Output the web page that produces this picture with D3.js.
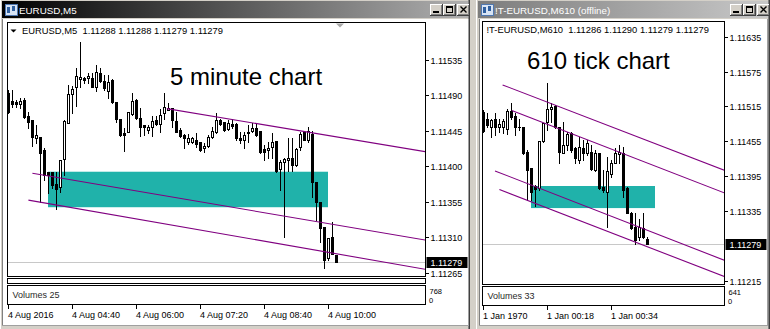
<!DOCTYPE html>
<html><head><meta charset="utf-8">
<script src="https://cdn.jsdelivr.net/npm/d3@7"></script>
<style>html,body{margin:0;padding:0;background:#d4d0c8;overflow:hidden}svg{display:block}text{font-family:"Liberation Sans",Arial,sans-serif}</style>
</head><body><svg id="c" width="770" height="329"></svg>
<script>
// ---------- DATA: left chart (EURUSD M5) ----------
const leftOpen = [1.11493,1.11483,1.11481,1.11479,1.11484,1.11464,1.11459,1.11436,1.11437,1.11420,1.11393,1.11393,1.11377,1.11374,1.11409,1.11455,1.11491,1.11500,1.11510,1.11512,1.11512,1.11512,1.11500,1.11518,1.11508,1.11495,1.11509,1.11481,1.11460,1.11442,1.11443,1.11466,1.11484,1.11461,1.11452,1.11446,1.11450,1.11459,1.11453,1.11467,1.11471,1.11474,1.11457,1.11446,1.11440,1.11431,1.11431,1.11433,1.11431,1.11423,1.11426,1.11437,1.11443,1.11459,1.11456,1.11447,1.11453,1.11453,1.11436,1.11433,1.11442,1.11445,1.11448,1.11445,1.11422,1.11420,1.11424,1.11432,1.11396,1.11405,1.11408,1.11410,1.11401,1.11424,1.11443,1.11433,1.11441,1.11380,1.11355,1.11323,1.11284,1.11310,1.11288];
const leftHigh = [1.11497,1.11497,1.11484,1.11486,1.11486,1.11469,1.11459,1.11452,1.11437,1.11423,1.11393,1.11393,1.11393,1.11408,1.11459,1.11503,1.11502,1.11524,1.11557,1.11513,1.11518,1.11518,1.11528,1.11524,1.11516,1.11516,1.11510,1.11481,1.11460,1.11448,1.11469,1.11493,1.11485,1.11474,1.11452,1.11452,1.11464,1.11464,1.11472,1.11493,1.11480,1.11474,1.11469,1.11448,1.11441,1.11441,1.11437,1.11442,1.11431,1.11429,1.11440,1.11450,1.11467,1.11460,1.11456,1.11459,1.11460,1.11455,1.11443,1.11443,1.11452,1.11455,1.11455,1.11445,1.11427,1.11431,1.11442,1.11432,1.11408,1.11410,1.11436,1.11436,1.11423,1.11443,1.11445,1.11450,1.11445,1.11380,1.11355,1.11323,1.11309,1.11329,1.11288];
const leftLow = [1.11467,1.11475,1.11475,1.11474,1.11461,1.11448,1.11426,1.11429,1.11355,1.11382,1.11366,1.11372,1.11346,1.11367,1.11389,1.11455,1.11467,1.11476,1.11500,1.11505,1.11505,1.11500,1.11495,1.11507,1.11497,1.11486,1.11480,1.11456,1.11438,1.11419,1.11443,1.11465,1.11460,1.11438,1.11440,1.11442,1.11438,1.11452,1.11443,1.11460,1.11471,1.11450,1.11443,1.11437,1.11423,1.11428,1.11429,1.11424,1.11419,1.11418,1.11424,1.11436,1.11442,1.11452,1.11445,1.11446,1.11448,1.11433,1.11429,1.11423,1.11431,1.11443,1.11438,1.11417,1.11408,1.11410,1.11410,1.11393,1.11370,1.11310,1.11394,1.11394,1.11400,1.11420,1.11433,1.11431,1.11361,1.11332,1.11304,1.11271,1.11281,1.11289,1.11279];
const leftClose = [1.11469,1.11479,1.11479,1.11483,1.11462,1.11456,1.11437,1.11440,1.11417,1.11389,1.11389,1.11376,1.11371,1.11408,1.11457,1.11491,1.11498,1.11514,1.11513,1.11509,1.11514,1.11500,1.11519,1.11508,1.11499,1.11507,1.11481,1.11460,1.11440,1.11440,1.11469,1.11483,1.11461,1.11450,1.11450,1.11450,1.11457,1.11453,1.11465,1.11475,1.11474,1.11459,1.11443,1.11438,1.11436,1.11436,1.11436,1.11428,1.11420,1.11426,1.11437,1.11445,1.11459,1.11453,1.11446,1.11455,1.11451,1.11436,1.11433,1.11440,1.11443,1.11448,1.11440,1.11418,1.11418,1.11423,1.11431,1.11394,1.11405,1.11409,1.11410,1.11401,1.11422,1.11441,1.11433,1.11445,1.11380,1.11355,1.11322,1.11281,1.11309,1.11289,1.11279];
const leftTimeLabels = ["4 Aug 2016","4 Aug 04:40","4 Aug 06:00","4 Aug 07:20","4 Aug 08:40","4 Aug 10:00"];
const leftTimeIndex = [0,16,32,48,64,80];
const leftPriceTicks = [1.11535,1.11490,1.11445,1.11400,1.11355,1.11310,1.11265];
const leftLastPrice = 1.11279;
const leftZone = {i1:10, i2:80, pTop:1.11393, pBot:1.11348};
const leftLines = [
  {i1:39.7, p1:1.11473, i2:104.75, p2:1.11418},
  {i1:6.1,  p1:1.11391, i2:104.75, p2:1.11306},
  {i1:5.1,  p1:1.11357, i2:104.75, p2:1.11269}
];

// ---------- DATA: right chart (610 tick) ----------
const rightOpen = [1.11506,1.11493,1.11480,1.11493,1.11480,1.11480,1.11476,1.11507,1.11499,1.11480,1.11480,1.11437,1.11409,1.11378,1.11375,1.11456,1.11488,1.11511,1.11516,1.11480,1.11435,1.11449,1.11469,1.11443,1.11423,1.11443,1.11435,1.11437,1.11406,1.11435,1.11376,1.11368,1.11399,1.11418,1.11433,1.11435,1.11375,1.11332,1.11307,1.11290,1.11306,1.11286];
const rightHigh = [1.11509,1.11504,1.11493,1.11504,1.11493,1.11493,1.11511,1.11521,1.11504,1.11493,1.11480,1.11440,1.11409,1.11380,1.11456,1.11486,1.11555,1.11521,1.11517,1.11480,1.11488,1.11471,1.11471,1.11445,1.11462,1.11457,1.11457,1.11449,1.11440,1.11435,1.11406,1.11428,1.11423,1.11443,1.11449,1.11445,1.11376,1.11333,1.11332,1.11321,1.11332,1.11290];
const rightLow = [1.11471,1.11480,1.11462,1.11466,1.11471,1.11469,1.11468,1.11493,1.11466,1.11474,1.11433,1.11354,1.11354,1.11344,1.11371,1.11454,1.11474,1.11488,1.11478,1.11418,1.11435,1.11440,1.11437,1.11418,1.11418,1.11423,1.11431,1.11406,1.11404,1.11373,1.11368,1.11307,1.11394,1.11418,1.11418,1.11359,1.11332,1.11304,1.11278,1.11285,1.11289,1.11279];
const rightClose = [1.11472,1.11483,1.11492,1.11480,1.11485,1.11490,1.11507,1.11497,1.11480,1.11479,1.11435,1.11406,1.11368,1.11373,1.11456,1.11486,1.11511,1.11514,1.11480,1.11437,1.11449,1.11468,1.11440,1.11426,1.11445,1.11435,1.11452,1.11407,1.11435,1.11375,1.11371,1.11404,1.11418,1.11435,1.11437,1.11371,1.11332,1.11306,1.11285,1.11307,1.11290,1.11279];
const rightTimeLabels = ["1 Jan 1970","1 Jan 00:18","1 Jan 00:34"];
const rightTimeIndex = [0,16,32];
const rightPriceTicks = [1.11635,1.11575,1.11515,1.11455,1.11395,1.11335,1.11215];
const rightLastPrice = 1.11279;
const rightZone = {i1:12, i2:43, pTop:1.11378, pBot:1.11340};
const rightLines = [
  {i1:4.9, p1:1.11552, i2:60.4, p2:1.11405},
  {i1:7.2, p1:1.11508, i2:60.4, p2:1.11366},
  {i1:3.0, p1:1.11404, i2:60.4, p2:1.11250},
  {i1:4.1, p1:1.11372, i2:60.4, p2:1.11222}
];

// ---------- DRAWING ----------
const svg = d3.select("#c");
const defs = svg.append("defs");
function grad(id, c1, c2){
  const g = defs.append("linearGradient").attr("id",id).attr("x1","0").attr("x2","1").attr("y1","0").attr("y2","0");
  g.append("stop").attr("offset","0").attr("stop-color",c1);
  g.append("stop").attr("offset","1").attr("stop-color",c2);
}
grad("gActive","#000000","#b0b0b0");
grad("gInactive","#7c7c7c","#c8c8c8");

svg.append("rect").attr("width",770).attr("height",329).attr("fill","#d4d0c8");

function hline(g,x1,x2,y,c){g.append("line").attr("x1",x1).attr("x2",x2).attr("y1",y).attr("y2",y).attr("stroke",c).attr("shape-rendering","crispEdges");}
function vline(g,x,y1,y2,c){g.append("line").attr("x1",x).attr("x2",x).attr("y1",y1).attr("y2",y2).attr("stroke",c).attr("shape-rendering","crispEdges");}

function drawWindow(x0, x1, title, gradId, clientX0, clientX1){
  const g = svg.append("g");
  vline(g,x0+0.5,0,329,"#ffffff");
  vline(g,x1-0.5,0,329,"#404040");
  vline(g,x1-1.5,0,329,"#808080");
  g.append("rect").attr("x",x0+2).attr("y",1).attr("width",x1-x0-4).attr("height",17).attr("fill",`url(#${gradId})`);
  g.append("rect").attr("x",clientX0).attr("y",19).attr("width",clientX1-clientX0).attr("height",306).attr("fill","#fff");
  vline(g,clientX0-0.5,19,326,"#808080");
  hline(g,clientX0-1,clientX1+1,325.5,"#a0a0a0");
  vline(g,clientX1+0.5,19,326,"#a0a0a0");
  const ix = x0+5;
  g.append("rect").attr("x",ix).attr("y",4).attr("width",12).attr("height",11).attr("fill","#d8e4f4").attr("stroke","#5078b0").attr("stroke-width",1).attr("shape-rendering","crispEdges");
  g.append("rect").attr("x",ix+2).attr("y",7).attr("width",3).attr("height",6).attr("fill","#3060a0");
  g.append("rect").attr("x",ix+7).attr("y",6).attr("width",3).attr("height",5).attr("fill","#3060a0");
  g.append("text").attr("x",x0+19).attr("y",14).attr("fill","#fff").attr("font-size","9.8px").text(title);
  const by = 4, bw = 13, bh = 12;
  const bx = [x1-40, x1-27, x1-13];
  bx.forEach((b,k)=>{
    const bb = g.append("g");
    bb.append("rect").attr("x",b).attr("y",by).attr("width",bw).attr("height",bh).attr("fill","#d4d0c8").attr("shape-rendering","crispEdges");
    hline(bb,b,b+bw,by+0.5,"#ffffff"); vline(bb,b+0.5,by,by+bh,"#ffffff");
    hline(bb,b,b+bw,by+bh-0.5,"#404040"); vline(bb,b+bw-0.5,by,by+bh,"#404040");
    hline(bb,b+1,b+bw-1,by+bh-1.5,"#808080"); vline(bb,b+bw-1.5,by+1,by+bh-1,"#808080");
    if(k===0){ bb.append("rect").attr("x",b+3).attr("y",by+7).attr("width",6).attr("height",2).attr("fill","#000"); }
    if(k===1){ bb.append("rect").attr("x",b+3.5).attr("y",by+2.5).attr("width",6).attr("height",6).attr("fill","none").attr("stroke","#000").attr("shape-rendering","crispEdges");
               bb.append("rect").attr("x",b+3).attr("y",by+2).attr("width",7).attr("height",2).attr("fill","#000"); }
    if(k===2){ bb.append("path").attr("d",`M${b+3.5},${by+2.5}L${b+9.5},${by+8.5}M${b+9.5},${by+2.5}L${b+3.5},${by+8.5}`).attr("stroke","#000").attr("stroke-width",1.4); }
  });
}
drawWindow(0, 470, "EURUSD,M5", "gActive", 3, 468);
drawWindow(476, 770, "!T-EURUSD,M610 (offline)", "gInactive", 480, 767);

function drawCandles(g, O, H, L, C, xs, ys){
  O.forEach((o,i)=>{
    const c = C[i];
    const cx = Math.round(xs(i));
    const yH = Math.round(ys(H[i])), yLo = Math.round(ys(L[i]));
    const yTop = Math.round(ys(Math.max(o,c))), yBot = Math.round(ys(Math.min(o,c)));
    g.append("rect").attr("x",cx).attr("y",yH).attr("width",1).attr("height",Math.max(1,yLo-yH+1)).attr("fill","#000");
    if (c < o) {
      g.append("rect").attr("x",cx-1).attr("y",yTop).attr("width",3).attr("height",Math.max(1,yBot-yTop+1)).attr("fill","#000");
    } else if (c > o && yBot-yTop >= 2) {
      g.append("rect").attr("x",cx-0.5).attr("y",yTop+0.5).attr("width",2).attr("height",yBot-yTop).attr("fill","#fff").attr("stroke","#000").attr("stroke-width",1);
    } else {
      g.append("rect").attr("x",cx-1).attr("y",yTop).attr("width",3).attr("height",Math.max(1,yBot-yTop+1)).attr("fill","#000");
    }
  });
}

function drawChart(cfg){
  const {O,H,L,C,xs,ys,fl,fr,ft,fb,zone,lines,last,ticks,tLabels,tIdx,header,bigText,bigX,bigY,volLabel,volMax,strip,volTop,volBot,clipId,triangle,shiftX} = cfg;
  const g = svg.append("g");
  defs.append("clipPath").attr("id",clipId).append("rect").attr("x",fl+0.5).attr("y",ft+0.5).attr("width",fr-fl-1).attr("height",fb-ft-1);
  const pg = g.append("g").attr("clip-path",`url(#${clipId})`);
  pg.append("rect").attr("x",xs(zone.i1)).attr("y",ys(zone.pTop)).attr("width",xs(zone.i2)-xs(zone.i1)).attr("height",ys(zone.pBot)-ys(zone.pTop)).attr("fill","#20b2aa");
  const yl = Math.round(ys(last))+0.5;
  hline(pg,fl,fr,yl,"#c8c8c8");
  const cg = pg.append("g").attr("shape-rendering","crispEdges");
  drawCandles(cg,O,H,L,C,xs,ys);
  lines.forEach(l=>{
    pg.append("line").attr("x1",xs(l.i1)).attr("y1",ys(l.p1)).attr("x2",xs(l.i2)).attr("y2",ys(l.p2)).attr("stroke","#800080").attr("stroke-width",1.1);
  });
  g.append("rect").attr("x",fl).attr("y",ft).attr("width",fr-fl).attr("height",fb-ft).attr("fill","none").attr("stroke","#000").attr("shape-rendering","crispEdges");
  if(strip){ g.append("rect").attr("x",fl).attr("y",strip[0]).attr("width",fr-fl).attr("height",strip[1]-strip[0]).attr("fill","none").attr("stroke","#000").attr("shape-rendering","crispEdges"); }
  g.append("rect").attr("x",fl).attr("y",volTop).attr("width",fr-fl).attr("height",volBot-volTop).attr("fill","none").attr("stroke","#000").attr("shape-rendering","crispEdges");
  if(triangle){ g.append("path").attr("d",`M${fl+3},${ft+7}L${fl+9},${ft+7}L${fl+6},${ft+10}Z`).attr("fill","#000"); }
  g.append("text").attr("x",header[0]).attr("y",ft+11).attr("font-size","9.4px").attr("fill","#000").attr("xml:space","preserve").style("white-space","pre").text(header[1]);
  if(shiftX){ g.append("path").attr("d",`M${shiftX-4},${ft+1}L${shiftX+4},${ft+1}L${shiftX},${ft+5}Z`).attr("fill","#a8a8a8"); }
  g.append("text").attr("x",bigX).attr("y",bigY).attr("font-size","24px").attr("fill","#000").text(bigText);
  ticks.forEach(t=>{
    const y = Math.round(ys(t))+0.5;
    hline(g,fr,fr+3,y,"#000");
    g.append("text").attr("x",fr+5).attr("y",y+3.5).attr("font-size","9px").attr("fill","#000").text(d3.format(".5f")(t));
  });
  const yb = Math.round(ys(last));
  g.append("rect").attr("x",fr+1).attr("y",yb-5).attr("width",41).attr("height",11).attr("fill","#000");
  g.append("text").attr("x",fr+5).attr("y",yb+4).attr("font-size","9px").attr("fill","#fff").text(d3.format(".5f")(last));
  g.append("text").attr("x",fl+5).attr("y",volTop+12).attr("font-size","9px").attr("fill","#2a2a2a").text(volLabel);
  g.append("text").attr("x",fr+4).attr("y",volTop+8.5).attr("font-size","7.5px").attr("fill","#000").text(volMax);
  g.append("text").attr("x",fr+3.5).attr("y",volTop+17).attr("font-size","7.5px").attr("fill","#000").text("0");
  tLabels.forEach((lab,k)=>{
    const x = Math.round(xs(tIdx[k]))+0.5;
    vline(g,x,volBot,volBot+4,"#000");
    g.append("text").attr("x",x-0.5).attr("y",volBot+13).attr("font-size","9px").attr("fill","#000").text(lab);
  });
}

const xL = d3.scaleLinear().domain([0,80]).range([8,328]);
const yL = d3.scaleLinear().domain([1.11265,1.11535]).range([272.7,59.7]);
const xR = d3.scaleLinear().domain([0,32]).range([483,611]);
const yR = d3.scaleLinear().domain([1.11215,1.11635]).range([280.7,36.7]);

drawChart({O:leftOpen,H:leftHigh,L:leftLow,C:leftClose,xs:xL,ys:yL,fl:7.5,fr:425.5,ft:22.5,fb:276.5,
  zone:leftZone,lines:leftLines,last:leftLastPrice,ticks:leftPriceTicks,tLabels:leftTimeLabels,tIdx:leftTimeIndex,
  header:[22,"EURUSD,M5  1.11288 1.11288 1.11279 1.11279"],bigText:"5 minute chart",bigX:170,bigY:85,
  volLabel:"Volumes 25",volMax:"768",strip:[278.5,283.5],volTop:285.5,volBot:304.5,clipId:"clipL",triangle:true,shiftX:340});

drawChart({O:rightOpen,H:rightHigh,L:rightLow,C:rightClose,xs:xR,ys:yR,fl:482.5,fr:724.5,ft:21.5,fb:284.5,
  zone:rightZone,lines:rightLines,last:rightLastPrice,ticks:rightPriceTicks,tLabels:rightTimeLabels,tIdx:rightTimeIndex,
  header:[486.5,"!T-EURUSD,M610  1.11286 1.11290 1.11279 1.11279"],bigText:"610 tick chart",bigX:527,bigY:69,
  volLabel:"Volumes 33",volMax:"641",strip:null,volTop:286.5,volBot:305.5,clipId:"clipR",triangle:false,shiftX:null});
</script></body></html>
